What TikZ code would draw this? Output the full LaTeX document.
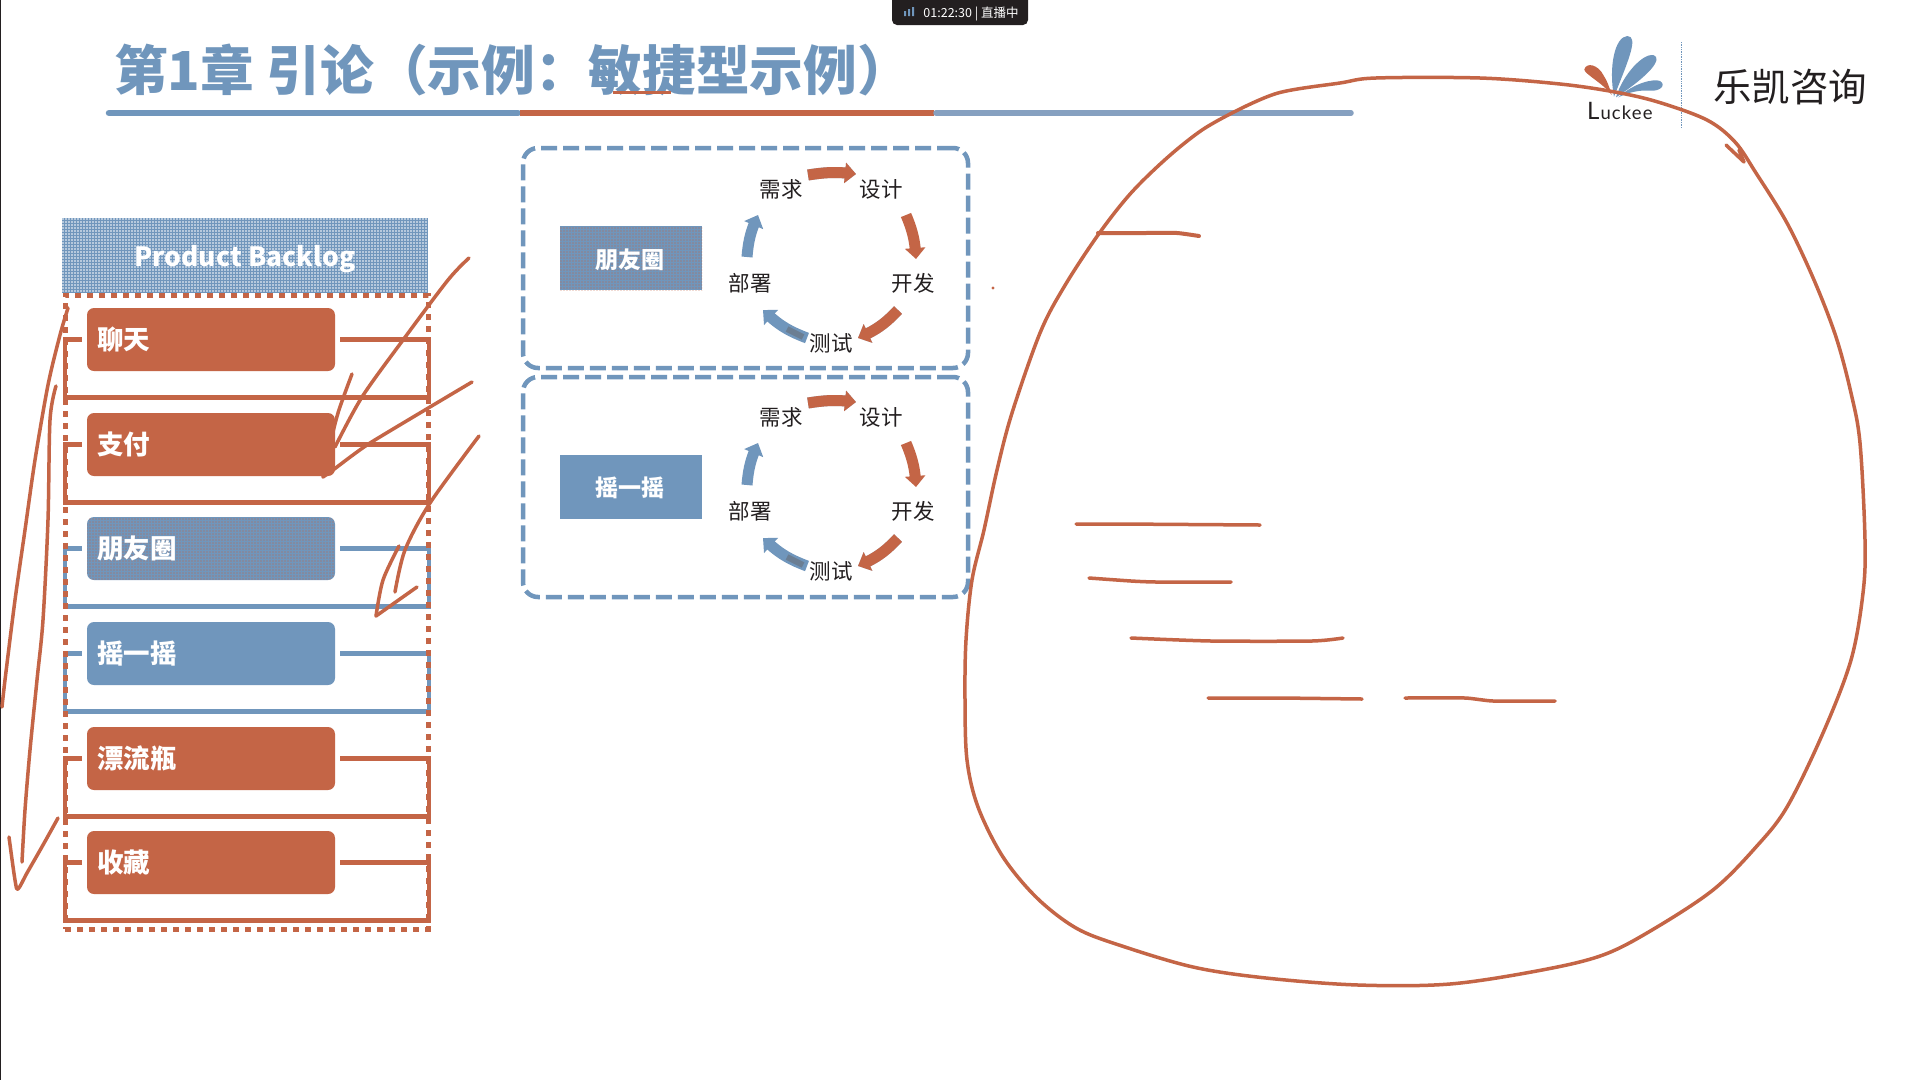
\documentclass[tikz,border=0pt]{standalone}
\usepackage{fontspec}
\setmainfont{Noto Sans CJK SC}
\newfontfamily\latinlogo{Lato}
\usetikzlibrary{arrows.meta,bending,patterns.meta}
\definecolor{bl}{HTML}{7096BC}
\definecolor{og}{HTML}{C46546}
\definecolor{ink}{HTML}{231F20}
\definecolor{rulegrey}{HTML}{86A0C0}
\tikzset{
  x=1pt,y=-1pt,
  item/.style={rounded corners=7pt,inner xsep=10pt,inner ysep=0pt,text width=228pt,minimum height=63pt,text=white,font=\fontsize{26.5}{26.5}\selectfont\bfseries,anchor=center},
  itemog/.style={item,fill=og},
  itembl/.style={item,fill=bl},
  dotog/.style={postaction={pattern={Dots[distance=3pt,radius=0.7pt]},pattern color=og}},
  dotwh/.style={postaction={pattern={Dots[distance=3pt,radius=0.9pt]},pattern color=white}},
  framel/.style={line width=4.5pt,line join=miter},
  sidebox/.style={fill=bl,minimum width=142pt,minimum height=64pt,inner sep=0pt,text=white,font=\fontsize{23}{23}\selectfont\bfseries},
  sidetext/.style={inner sep=0pt,text=white,font=\fontsize{23}{23}\selectfont\bfseries},
  cyc/.style={inner sep=0pt,text=ink,font=\fontsize{21.5}{21.5}\selectfont},
  dashbox/.style={draw=bl,line width=4.5pt,rounded corners=15pt,dash pattern=on 16pt off 6pt,inner sep=0pt,minimum width=445pt,minimum height=220pt},
  blockarrow/.style={line width=11pt,-{Triangle[width=20pt,length=11pt,flex]}},
  pen/.style={draw=og,line width=3.5pt,line cap=round,line join=round}
}
\newcommand{\itemframe}[2]{\draw[framel,draw=#2] ([xshift=-5pt]#1.west) -- ++(-17,0) -- ++(0,58) -- ++(364,0) -- ++(0,-58) -- ([xshift=5pt]#1.east);}
\newcommand{\cyclegroup}[1]{%
  \node[cyc] (#1req) at (781,189.5) {需求};
  \node[cyc] (#1des) at (881,189.5) {设计};
  \node[cyc] (#1dev) at (913,283.5) {开发};
  \node[cyc] (#1tst) at (831,343.5) {测试};
  \node[cyc] (#1dep) at (750,283.5) {部署};
  \coordinate (#1a1) at (808,175); \coordinate (#1a2) at (856,174);
  \coordinate (#1b1) at (906,215); \coordinate (#1b2) at (916,259);
  \coordinate (#1c1) at (898,310); \coordinate (#1c2) at (858,338);
  \coordinate (#1d1) at (807,338); \coordinate (#1d2) at (763,310);
  \coordinate (#1e1) at (747,257); \coordinate (#1e2) at (758,215);
  \draw[blockarrow,draw=bl!65,shift={(0,2)}] (#1a1) to[bend left=8] (#1a2);
  \draw[blockarrow,draw=og] (#1a1) to[bend left=8] (#1a2);
  \draw[blockarrow,draw=og] (#1b1) to[bend left=10] (#1b2);
  \draw[blockarrow,draw=bl!65,shift={(0,2)}] (#1c1) to[bend left=12] (#1c2);
  \draw[blockarrow,draw=og] (#1c1) to[bend left=12] (#1c2);
  \draw[blockarrow,draw=bl] (#1d1) to[bend left=12] (#1d2);
  \draw[line width=6pt,draw=ink!70,opacity=.45] ([shift={(-4,-1)}]#1d1) -- ++(-16,-8);
  \draw[blockarrow,draw=bl] (#1e1) to[bend left=10] (#1e2);
}
\begin{document}
\begin{tikzpicture}
\useasboundingbox (0,0) rectangle (1920,1080);
\fill[white] (0,0) rectangle (1920,1080);
\draw[ink,line width=1.5pt] (0.5,0) -- (0.5,1080);
% status pill
\fill[ink,rounded corners=5pt] (892,-8) rectangle (1028,25);
\node[inner sep=0pt,text=white,font=\fontsize{12.5}{12.5}\selectfont] (pill) at (971,14) {01:22:30 | 直播中};
\fill[bl] (904,11) rectangle (906,16) (908,9) rectangle (910,16) (912,7) rectangle (914,16);
% title
\node[inner sep=0pt,anchor=west,text=bl,font=\fontsize{53.7}{53.7}\selectfont\bfseries] (title) at (114,70) {第1章 引论（示例：敏捷型示例）};
\fill[og] (613,90.5) rectangle (671,94);
\draw[line width=6.5pt,bl,line cap=round] (109,113) -- (518,113);
\draw[line width=6.5pt,og] (520,113) -- (934,113);
\draw[line width=5.5pt,rulegrey,line cap=round] (936,113) -- (1351,113);
% logo
\begin{scope}[shift={(1540,20)},x=0.3333pt,y=-0.3333pt]
\fill[bl] (222,230) .. controls (205,140) and (225,50) .. (262,48) .. controls (295,50) and (270,110) .. (222,230);
\fill[bl] (228,232) .. controls (250,160) and (310,100) .. (340,105) .. controls (370,115) and (330,165) .. (228,232);
\fill[bl] (235,232) .. controls (280,190) and (340,175) .. (360,183) .. controls (380,195) and (360,215) .. (330,212) .. controls (300,210) and (270,215) .. (235,232);
\fill[og] (215,225) .. controls (190,190) and (130,160) .. (133,148) .. controls (140,125) and (175,135) .. (190,165) .. controls (200,180) and (210,205) .. (215,225);
\end{scope}
\node[inner sep=0pt,anchor=base west,text=ink] (luckee) at (1587,119) {\latinlogo\fontsize{24}{24}\selectfont L\hspace{1pt}\fontsize{18.5}{18.5}\selectfont\addfontfeature{LetterSpace=6}uckee};
\draw[bl,line width=.7pt,densely dotted] (1681,42) -- (1681,128);
\node[inner sep=0pt,text=ink,font=\fontsize{38.5}{38.5}\selectfont] (brand) at (1790,87) {乐凯咨询};
% backlog header
\node[fill=bl,dotwh,minimum width=366pt,minimum height=75pt,inner sep=0pt] (backlog) at (245,255.5) {};
\node[inner sep=0pt,text=white,font=\fontsize{26.5}{26.5}\selectfont\bfseries] (backlogtext) at (245,259) {Product Backlog};
% items
\node[itemog] (chat) at (211,339.5) {聊天};
\node[itemog] (pay) at (211,444.5) {支付};
\node[itembl,dotog] (moments) at (211,548.5) {朋友圈};
\node[itembl] (shake) at (211,653.5) {摇一摇};
\node[itemog] (bottle) at (211,758.5) {漂流瓶};
\node[itemog] (fav) at (211,862.5) {收藏};
\itemframe{chat}{og}
\itemframe{pay}{og}
\itemframe{moments}{bl}
\itemframe{shake}{bl}
\itemframe{bottle}{og}
\itemframe{fav}{og}
\node[draw=og,line width=5pt,dash pattern=on 6pt off 6pt,minimum width=363pt,minimum height=634pt,inner sep=0pt] (backlogframe) at (246.5,612) {};
% sprint boxes
\node[dashbox] (sprintA) at (745.5,258) {};
\node[dashbox] (sprintB) at (745.5,487) {};
\node[sidebox,dotog] (sideA) at (631,258) {};
\node[sidetext] (sideAt) at (630,259.5) {朋友圈};
\node[sidebox] (sideB) at (631,487) {};
\node[sidetext] (sideBt) at (630,487.5) {摇一摇};
\cyclegroup{p}
\begin{scope}[shift={(0,228)}]
\cyclegroup{q}
\end{scope}
% pen strokes
\draw[pen] plot[smooth,tension=.55] coordinates {(1232,113) (1278,93) (1340,83) (1376,78) (1480,78) (1560,84) (1615,92) (1658,102) (1707,120) (1735,142) (1756,173) (1787,223) (1814,280) (1836,337) (1851,393) (1860,443) (1865,540) (1863,593) (1851,660) (1823,733) (1787,807) (1756,847) (1713,890) (1652,930) (1603,955) (1542,970) (1450,984) (1358,985) (1266,978) (1193,967) (1119,945) (1076,928) (1037,898) (1003,857) (978,807) (967,760) (965,700) (966,640) (972,580) (984,530) (997,470) (1012,413) (1040,333) (1064,287) (1098,235) (1131,193) (1168,157) (1202,130) (1232,113)};
\draw[pen] (1726,145) -- (1744,162) -- (1739,150);
\draw[pen,line width=4pt] plot[smooth,tension=.3] coordinates {(1098,233) (1144,233) (1177,233) (1199,236)};
\draw[pen] (1076,524) -- (1120,524) -- (1260,525);
\draw[pen] plot[smooth,tension=.3] coordinates {(1089,578) (1131,581) (1156,582) (1231,582)};
\draw[pen] plot[smooth,tension=.4] coordinates {(1131,638) (1211,641) (1312,641) (1343,638)};
\draw[pen] (1208,698) -- (1281,698) -- (1362,699);
\draw[pen] plot[smooth,tension=.3] coordinates {(1405,698) (1465,698) (1493,701) (1555,701)};
\fill[og] (993,288) circle (1.6pt);
\draw[pen] plot[smooth,tension=.5] coordinates {(68,308) (60,335) (48,385) (35,460) (25,530) (15,600) (5,680) (2,707)};
\draw[pen] plot[smooth,tension=.5] coordinates {(56,386) (50,420) (48,520) (43,620) (37,680) (30,750) (25,810) (22,862)};
\draw[pen] plot[smooth,tension=.5] coordinates {(9,837) (15,880) (18,889) (27,873) (43,845) (58,818)};
\draw[pen] plot[smooth,tension=.5] coordinates {(479,436) (430,503) (405,550) (395,592)};
\draw[pen] plot[smooth,tension=.5] coordinates {(399,546) (383,580) (376,616)};
\draw[pen] (376,616) -- (417,587);
\draw[pen] plot[smooth,tension=.5] coordinates {(469,258) (448,280) (403,340) (362,397) (335,447)};
\draw[pen] plot[smooth,tension=.5] coordinates {(352,374) (338,413) (328,453) (323,477)};
\draw[pen] plot[smooth,tension=.3] coordinates {(323,477) (333,470) (370,443) (472,382)};
\end{tikzpicture}
\end{document}
